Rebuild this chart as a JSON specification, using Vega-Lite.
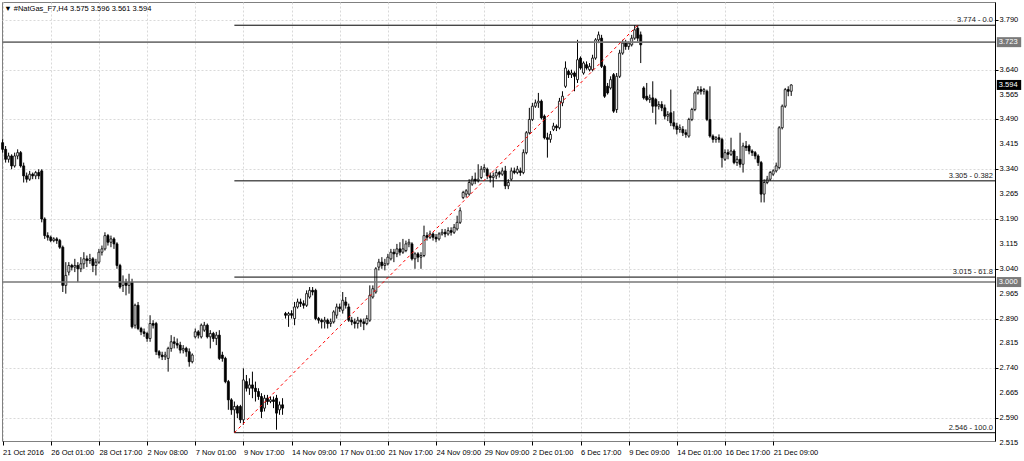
{
  "$schema": "https://vega.github.io/schema/vega-lite/v6.json",
  "width": 993,
  "height": 439,
  "autosize": {"type": "none"},
  "padding": {"left": 2, "top": 2, "right": 29, "bottom": 20},
  "background": "white",
  "config": {
    "view": {"stroke": "#808080", "strokeWidth": 1},
    "font": "Liberation Sans",
    "scale": {"continuousPadding": 0},
    "axis": {"labelFont": "Liberation Sans", "labelFontSize": 7.5, "labelColor": "#000000", "gridColor": "#d9d9d9", "gridDash": [2, 2], "tickColor": "#000000", "labelFlush": false, "labelOverlap": false, "title": null}
  },
  "title": {"text": "▼ #NatGas_F7,H4  3.575 3.596 3.561 3.594", "anchor": "start", "orient": "top", "offset": -10, "dx": 3, "fontSize": 7.5, "fontWeight": "normal", "font": "Liberation Sans", "color": "#000000"},
  "datasets": {
    "k": [
      {"i":0,"o":3.42,"h":3.43,"l":3.39,"c":3.40},
      {"i":1,"o":3.40,"h":3.41,"l":3.36,"c":3.37},
      {"i":2,"o":3.37,"h":3.39,"l":3.36,"c":3.38},
      {"i":3,"o":3.38,"h":3.385,"l":3.34,"c":3.35},
      {"i":4,"o":3.35,"h":3.39,"l":3.345,"c":3.38},
      {"i":5,"o":3.38,"h":3.40,"l":3.37,"c":3.39},
      {"i":6,"o":3.39,"h":3.395,"l":3.345,"c":3.35},
      {"i":7,"o":3.35,"h":3.36,"l":3.30,"c":3.32},
      {"i":8,"o":3.32,"h":3.33,"l":3.30,"c":3.31},
      {"i":9,"o":3.31,"h":3.335,"l":3.305,"c":3.325},
      {"i":10,"o":3.325,"h":3.33,"l":3.31,"c":3.32},
      {"i":11,"o":3.32,"h":3.335,"l":3.31,"c":3.33},
      {"i":12,"o":3.33,"h":3.34,"l":3.31,"c":3.32},
      {"i":13,"o":3.335,"h":3.34,"l":3.18,"c":3.19},
      {"i":14,"o":3.19,"h":3.195,"l":3.13,"c":3.14},
      {"i":15,"o":3.14,"h":3.15,"l":3.125,"c":3.135},
      {"i":16,"o":3.135,"h":3.14,"l":3.12,"c":3.125},
      {"i":17,"o":3.125,"h":3.135,"l":3.12,"c":3.13},
      {"i":18,"o":3.13,"h":3.135,"l":3.115,"c":3.125},
      {"i":19,"o":3.125,"h":3.13,"l":3.10,"c":3.105},
      {"i":20,"o":3.105,"h":3.11,"l":2.97,"c":2.99},
      {"i":21,"o":2.99,"h":3.06,"l":2.965,"c":3.02},
      {"i":22,"o":3.03,"h":3.06,"l":3.02,"c":3.05},
      {"i":23,"o":3.05,"h":3.055,"l":3.035,"c":3.045},
      {"i":24,"o":3.045,"h":3.07,"l":3.03,"c":3.05},
      {"i":25,"o":3.05,"h":3.06,"l":3.00,"c":3.04},
      {"i":26,"o":3.04,"h":3.075,"l":3.03,"c":3.055},
      {"i":27,"o":3.055,"h":3.09,"l":3.04,"c":3.07},
      {"i":28,"o":3.07,"h":3.08,"l":3.045,"c":3.065},
      {"i":29,"o":3.065,"h":3.085,"l":3.055,"c":3.07},
      {"i":30,"o":3.07,"h":3.075,"l":3.03,"c":3.05},
      {"i":31,"o":3.05,"h":3.07,"l":3.02,"c":3.06},
      {"i":32,"o":3.06,"h":3.10,"l":3.055,"c":3.09},
      {"i":33,"o":3.09,"h":3.11,"l":3.08,"c":3.10},
      {"i":34,"o":3.10,"h":3.15,"l":3.095,"c":3.14},
      {"i":35,"o":3.14,"h":3.145,"l":3.11,"c":3.12},
      {"i":36,"o":3.12,"h":3.14,"l":3.105,"c":3.13},
      {"i":37,"o":3.13,"h":3.135,"l":3.10,"c":3.115},
      {"i":38,"o":3.115,"h":3.12,"l":3.04,"c":3.05},
      {"i":39,"o":3.05,"h":3.055,"l":2.98,"c":2.985},
      {"i":40,"o":2.99,"h":3.02,"l":2.97,"c":3.00},
      {"i":41,"o":3.00,"h":3.01,"l":2.96,"c":2.99},
      {"i":42,"o":2.99,"h":3.025,"l":2.965,"c":3.00},
      {"i":43,"o":3.00,"h":3.01,"l":2.86,"c":2.865},
      {"i":44,"o":2.87,"h":2.935,"l":2.86,"c":2.93},
      {"i":45,"o":2.93,"h":2.94,"l":2.855,"c":2.86},
      {"i":46,"o":2.86,"h":2.865,"l":2.84,"c":2.85},
      {"i":47,"o":2.85,"h":2.86,"l":2.835,"c":2.845},
      {"i":48,"o":2.845,"h":2.85,"l":2.82,"c":2.83},
      {"i":49,"o":2.83,"h":2.90,"l":2.82,"c":2.875},
      {"i":50,"o":2.875,"h":2.885,"l":2.86,"c":2.87},
      {"i":51,"o":2.875,"h":2.88,"l":2.78,"c":2.79},
      {"i":52,"o":2.79,"h":2.795,"l":2.77,"c":2.78},
      {"i":53,"o":2.78,"h":2.79,"l":2.765,"c":2.775},
      {"i":54,"o":2.775,"h":2.79,"l":2.765,"c":2.78},
      {"i":55,"o":2.77,"h":2.805,"l":2.73,"c":2.80},
      {"i":56,"o":2.80,"h":2.84,"l":2.79,"c":2.82},
      {"i":57,"o":2.82,"h":2.835,"l":2.80,"c":2.815},
      {"i":58,"o":2.815,"h":2.83,"l":2.80,"c":2.81},
      {"i":59,"o":2.81,"h":2.82,"l":2.785,"c":2.795},
      {"i":60,"o":2.795,"h":2.81,"l":2.785,"c":2.80},
      {"i":61,"o":2.80,"h":2.805,"l":2.775,"c":2.79},
      {"i":62,"o":2.79,"h":2.80,"l":2.745,"c":2.76},
      {"i":63,"o":2.76,"h":2.785,"l":2.755,"c":2.78},
      {"i":64,"o":2.835,"h":2.86,"l":2.83,"c":2.85},
      {"i":65,"o":2.85,"h":2.855,"l":2.83,"c":2.84},
      {"i":66,"o":2.835,"h":2.875,"l":2.83,"c":2.87},
      {"i":67,"o":2.855,"h":2.88,"l":2.85,"c":2.87},
      {"i":68,"o":2.87,"h":2.875,"l":2.83,"c":2.835},
      {"i":69,"o":2.835,"h":2.855,"l":2.80,"c":2.845},
      {"i":70,"o":2.845,"h":2.85,"l":2.82,"c":2.83},
      {"i":71,"o":2.83,"h":2.85,"l":2.81,"c":2.84},
      {"i":72,"o":2.84,"h":2.855,"l":2.765,"c":2.77},
      {"i":73,"o":2.78,"h":2.79,"l":2.76,"c":2.77},
      {"i":74,"o":2.77,"h":2.775,"l":2.695,"c":2.70},
      {"i":75,"o":2.70,"h":2.705,"l":2.615,"c":2.645},
      {"i":76,"o":2.645,"h":2.65,"l":2.60,"c":2.615},
      {"i":77,"o":2.615,"h":2.64,"l":2.546,"c":2.625},
      {"i":78,"o":2.625,"h":2.63,"l":2.59,"c":2.605},
      {"i":79,"o":2.625,"h":2.63,"l":2.575,"c":2.585},
      {"i":80,"o":2.585,"h":2.74,"l":2.57,"c":2.705},
      {"i":81,"o":2.70,"h":2.72,"l":2.67,"c":2.68},
      {"i":82,"o":2.68,"h":2.71,"l":2.66,"c":2.69},
      {"i":83,"o":2.69,"h":2.73,"l":2.65,"c":2.68},
      {"i":84,"o":2.68,"h":2.70,"l":2.64,"c":2.67},
      {"i":85,"o":2.67,"h":2.68,"l":2.645,"c":2.655},
      {"i":86,"o":2.655,"h":2.665,"l":2.59,"c":2.61},
      {"i":87,"o":2.62,"h":2.66,"l":2.61,"c":2.65},
      {"i":88,"o":2.65,"h":2.66,"l":2.63,"c":2.64},
      {"i":89,"o":2.64,"h":2.655,"l":2.635,"c":2.645},
      {"i":90,"o":2.645,"h":2.655,"l":2.62,"c":2.64},
      {"i":91,"o":2.65,"h":2.66,"l":2.555,"c":2.605},
      {"i":92,"o":2.615,"h":2.64,"l":2.60,"c":2.63},
      {"i":93,"o":2.63,"h":2.65,"l":2.60,"c":2.62},
      {"i":94,"o":2.905,"h":2.91,"l":2.89,"c":2.90},
      {"i":95,"o":2.90,"h":2.91,"l":2.865,"c":2.905},
      {"i":96,"o":2.905,"h":2.915,"l":2.89,"c":2.90},
      {"i":97,"o":2.89,"h":2.94,"l":2.87,"c":2.925},
      {"i":98,"o":2.925,"h":2.95,"l":2.92,"c":2.94},
      {"i":99,"o":2.94,"h":2.95,"l":2.925,"c":2.935},
      {"i":100,"o":2.935,"h":2.945,"l":2.92,"c":2.93},
      {"i":101,"o":2.93,"h":2.975,"l":2.925,"c":2.965},
      {"i":102,"o":2.955,"h":2.985,"l":2.95,"c":2.975},
      {"i":103,"o":2.975,"h":2.985,"l":2.96,"c":2.97},
      {"i":104,"o":2.975,"h":2.98,"l":2.885,"c":2.89},
      {"i":105,"o":2.89,"h":2.895,"l":2.875,"c":2.885},
      {"i":106,"o":2.885,"h":2.89,"l":2.86,"c":2.88},
      {"i":107,"o":2.88,"h":2.895,"l":2.86,"c":2.885},
      {"i":108,"o":2.885,"h":2.89,"l":2.86,"c":2.875},
      {"i":109,"o":2.875,"h":2.89,"l":2.865,"c":2.88},
      {"i":110,"o":2.88,"h":2.915,"l":2.875,"c":2.91},
      {"i":111,"o":2.90,"h":2.935,"l":2.89,"c":2.925},
      {"i":112,"o":2.925,"h":2.935,"l":2.91,"c":2.92},
      {"i":113,"o":2.915,"h":2.97,"l":2.905,"c":2.945},
      {"i":114,"o":2.94,"h":2.955,"l":2.92,"c":2.93},
      {"i":115,"o":2.925,"h":2.935,"l":2.88,"c":2.885},
      {"i":116,"o":2.885,"h":2.895,"l":2.87,"c":2.88},
      {"i":117,"o":2.88,"h":2.89,"l":2.86,"c":2.875},
      {"i":118,"o":2.875,"h":2.895,"l":2.86,"c":2.885},
      {"i":119,"o":2.885,"h":2.89,"l":2.865,"c":2.88},
      {"i":120,"o":2.88,"h":2.89,"l":2.855,"c":2.875},
      {"i":121,"o":2.875,"h":2.90,"l":2.87,"c":2.89},
      {"i":122,"o":2.885,"h":2.99,"l":2.88,"c":2.96},
      {"i":123,"o":2.955,"h":2.99,"l":2.95,"c":2.98},
      {"i":124,"o":2.97,"h":3.045,"l":2.965,"c":3.04},
      {"i":125,"o":3.045,"h":3.07,"l":3.035,"c":3.06},
      {"i":126,"o":3.06,"h":3.075,"l":3.04,"c":3.05},
      {"i":127,"o":3.05,"h":3.07,"l":3.035,"c":3.055},
      {"i":128,"o":3.055,"h":3.085,"l":3.05,"c":3.075},
      {"i":129,"o":3.07,"h":3.10,"l":3.065,"c":3.09},
      {"i":130,"o":3.09,"h":3.10,"l":3.06,"c":3.085},
      {"i":131,"o":3.085,"h":3.115,"l":3.075,"c":3.10},
      {"i":132,"o":3.10,"h":3.12,"l":3.08,"c":3.09},
      {"i":133,"o":3.09,"h":3.13,"l":3.085,"c":3.10},
      {"i":134,"o":3.095,"h":3.125,"l":3.09,"c":3.115},
      {"i":135,"o":3.115,"h":3.13,"l":3.105,"c":3.12},
      {"i":136,"o":3.115,"h":3.12,"l":3.065,"c":3.07},
      {"i":137,"o":3.07,"h":3.09,"l":3.04,"c":3.085},
      {"i":138,"o":3.085,"h":3.09,"l":3.06,"c":3.075},
      {"i":139,"o":3.075,"h":3.09,"l":3.04,"c":3.08},
      {"i":140,"o":3.08,"h":3.17,"l":3.075,"c":3.14},
      {"i":141,"o":3.14,"h":3.15,"l":3.125,"c":3.135},
      {"i":142,"o":3.135,"h":3.155,"l":3.13,"c":3.145},
      {"i":143,"o":3.145,"h":3.15,"l":3.125,"c":3.135},
      {"i":144,"o":3.135,"h":3.145,"l":3.12,"c":3.13},
      {"i":145,"o":3.13,"h":3.15,"l":3.125,"c":3.145},
      {"i":146,"o":3.145,"h":3.16,"l":3.14,"c":3.15},
      {"i":147,"o":3.15,"h":3.16,"l":3.135,"c":3.145},
      {"i":148,"o":3.145,"h":3.165,"l":3.14,"c":3.155},
      {"i":149,"o":3.155,"h":3.165,"l":3.14,"c":3.15},
      {"i":150,"o":3.15,"h":3.175,"l":3.145,"c":3.165},
      {"i":151,"o":3.16,"h":3.20,"l":3.155,"c":3.18},
      {"i":152,"o":3.18,"h":3.225,"l":3.175,"c":3.215},
      {"i":153,"o":3.255,"h":3.275,"l":3.25,"c":3.27},
      {"i":154,"o":3.265,"h":3.28,"l":3.255,"c":3.275},
      {"i":155,"o":3.265,"h":3.31,"l":3.26,"c":3.30},
      {"i":156,"o":3.295,"h":3.32,"l":3.29,"c":3.31},
      {"i":157,"o":3.31,"h":3.33,"l":3.295,"c":3.305},
      {"i":158,"o":3.305,"h":3.355,"l":3.30,"c":3.31},
      {"i":159,"o":3.315,"h":3.35,"l":3.31,"c":3.34},
      {"i":160,"o":3.34,"h":3.355,"l":3.33,"c":3.345},
      {"i":161,"o":3.34,"h":3.345,"l":3.31,"c":3.32},
      {"i":162,"o":3.32,"h":3.33,"l":3.30,"c":3.315},
      {"i":163,"o":3.315,"h":3.33,"l":3.285,"c":3.32},
      {"i":164,"o":3.32,"h":3.34,"l":3.31,"c":3.33},
      {"i":165,"o":3.33,"h":3.335,"l":3.315,"c":3.325},
      {"i":166,"o":3.325,"h":3.345,"l":3.32,"c":3.335},
      {"i":167,"o":3.335,"h":3.35,"l":3.28,"c":3.29},
      {"i":168,"o":3.29,"h":3.31,"l":3.28,"c":3.30},
      {"i":169,"o":3.31,"h":3.345,"l":3.305,"c":3.335},
      {"i":170,"o":3.335,"h":3.345,"l":3.325,"c":3.33},
      {"i":171,"o":3.33,"h":3.35,"l":3.325,"c":3.34},
      {"i":172,"o":3.335,"h":3.345,"l":3.32,"c":3.33},
      {"i":173,"o":3.33,"h":3.40,"l":3.325,"c":3.39},
      {"i":174,"o":3.39,"h":3.455,"l":3.385,"c":3.45},
      {"i":175,"o":3.45,"h":3.525,"l":3.445,"c":3.49},
      {"i":176,"o":3.49,"h":3.54,"l":3.485,"c":3.53},
      {"i":177,"o":3.53,"h":3.55,"l":3.525,"c":3.54},
      {"i":178,"o":3.54,"h":3.57,"l":3.525,"c":3.545},
      {"i":179,"o":3.545,"h":3.55,"l":3.49,"c":3.495},
      {"i":180,"o":3.50,"h":3.505,"l":3.43,"c":3.435},
      {"i":181,"o":3.435,"h":3.45,"l":3.375,"c":3.43},
      {"i":182,"o":3.43,"h":3.455,"l":3.42,"c":3.445},
      {"i":183,"o":3.46,"h":3.48,"l":3.455,"c":3.47},
      {"i":184,"o":3.47,"h":3.475,"l":3.455,"c":3.465},
      {"i":185,"o":3.465,"h":3.555,"l":3.46,"c":3.545},
      {"i":186,"o":3.54,"h":3.575,"l":3.53,"c":3.56},
      {"i":187,"o":3.59,"h":3.665,"l":3.585,"c":3.645},
      {"i":188,"o":3.635,"h":3.64,"l":3.615,"c":3.625},
      {"i":189,"o":3.625,"h":3.64,"l":3.615,"c":3.63},
      {"i":190,"o":3.63,"h":3.635,"l":3.575,"c":3.62},
      {"i":191,"o":3.61,"h":3.73,"l":3.60,"c":3.67},
      {"i":192,"o":3.675,"h":3.68,"l":3.64,"c":3.645},
      {"i":193,"o":3.63,"h":3.665,"l":3.625,"c":3.66},
      {"i":194,"o":3.655,"h":3.665,"l":3.64,"c":3.645},
      {"i":195,"o":3.64,"h":3.66,"l":3.635,"c":3.65},
      {"i":196,"o":3.64,"h":3.685,"l":3.635,"c":3.675},
      {"i":197,"o":3.675,"h":3.735,"l":3.67,"c":3.73},
      {"i":198,"o":3.73,"h":3.755,"l":3.72,"c":3.745},
      {"i":199,"o":3.735,"h":3.745,"l":3.645,"c":3.65},
      {"i":200,"o":3.65,"h":3.655,"l":3.555,"c":3.56},
      {"i":201,"o":3.59,"h":3.60,"l":3.565,"c":3.57},
      {"i":202,"o":3.585,"h":3.62,"l":3.58,"c":3.61},
      {"i":203,"o":3.625,"h":3.63,"l":3.51,"c":3.515},
      {"i":204,"o":3.52,"h":3.63,"l":3.51,"c":3.62},
      {"i":205,"o":3.62,"h":3.70,"l":3.615,"c":3.69},
      {"i":206,"o":3.69,"h":3.73,"l":3.685,"c":3.72},
      {"i":207,"o":3.72,"h":3.73,"l":3.70,"c":3.71},
      {"i":208,"o":3.71,"h":3.725,"l":3.70,"c":3.72},
      {"i":209,"o":3.715,"h":3.745,"l":3.71,"c":3.735},
      {"i":210,"o":3.735,"h":3.774,"l":3.73,"c":3.76},
      {"i":211,"o":3.765,"h":3.774,"l":3.725,"c":3.735},
      {"i":212,"o":3.745,"h":3.755,"l":3.66,"c":3.715},
      {"i":213,"o":3.585,"h":3.59,"l":3.55,"c":3.555},
      {"i":214,"o":3.56,"h":3.60,"l":3.545,"c":3.55},
      {"i":215,"o":3.55,"h":3.565,"l":3.54,"c":3.555},
      {"i":216,"o":3.555,"h":3.605,"l":3.51,"c":3.53},
      {"i":217,"o":3.55,"h":3.555,"l":3.475,"c":3.53},
      {"i":218,"o":3.53,"h":3.545,"l":3.52,"c":3.535},
      {"i":219,"o":3.535,"h":3.545,"l":3.515,"c":3.525},
      {"i":220,"o":3.525,"h":3.535,"l":3.49,"c":3.50},
      {"i":221,"o":3.50,"h":3.515,"l":3.485,"c":3.505},
      {"i":222,"o":3.51,"h":3.58,"l":3.47,"c":3.48},
      {"i":223,"o":3.48,"h":3.515,"l":3.46,"c":3.47},
      {"i":224,"o":3.47,"h":3.48,"l":3.445,"c":3.46},
      {"i":225,"o":3.46,"h":3.475,"l":3.45,"c":3.465},
      {"i":226,"o":3.46,"h":3.47,"l":3.44,"c":3.45},
      {"i":227,"o":3.45,"h":3.46,"l":3.435,"c":3.445},
      {"i":228,"o":3.44,"h":3.495,"l":3.435,"c":3.49},
      {"i":229,"o":3.49,"h":3.525,"l":3.485,"c":3.52},
      {"i":230,"o":3.52,"h":3.575,"l":3.515,"c":3.57},
      {"i":231,"o":3.57,"h":3.59,"l":3.565,"c":3.58},
      {"i":232,"o":3.58,"h":3.59,"l":3.565,"c":3.575},
      {"i":233,"o":3.575,"h":3.585,"l":3.565,"c":3.58},
      {"i":234,"o":3.575,"h":3.58,"l":3.485,"c":3.49},
      {"i":235,"o":3.49,"h":3.59,"l":3.435,"c":3.44},
      {"i":236,"o":3.44,"h":3.445,"l":3.42,"c":3.43},
      {"i":237,"o":3.43,"h":3.44,"l":3.42,"c":3.435},
      {"i":238,"o":3.435,"h":3.445,"l":3.42,"c":3.43},
      {"i":239,"o":3.43,"h":3.435,"l":3.345,"c":3.375},
      {"i":240,"o":3.37,"h":3.40,"l":3.365,"c":3.39},
      {"i":241,"o":3.39,"h":3.40,"l":3.37,"c":3.385},
      {"i":242,"o":3.385,"h":3.435,"l":3.38,"c":3.395},
      {"i":243,"o":3.395,"h":3.40,"l":3.355,"c":3.36},
      {"i":244,"o":3.36,"h":3.38,"l":3.35,"c":3.37},
      {"i":245,"o":3.37,"h":3.45,"l":3.345,"c":3.355},
      {"i":246,"o":3.355,"h":3.42,"l":3.33,"c":3.41},
      {"i":247,"o":3.41,"h":3.425,"l":3.395,"c":3.405},
      {"i":248,"o":3.41,"h":3.415,"l":3.385,"c":3.395},
      {"i":249,"o":3.395,"h":3.40,"l":3.38,"c":3.39},
      {"i":250,"o":3.39,"h":3.395,"l":3.37,"c":3.38},
      {"i":251,"o":3.38,"h":3.385,"l":3.35,"c":3.36},
      {"i":252,"o":3.36,"h":3.365,"l":3.24,"c":3.265},
      {"i":253,"o":3.265,"h":3.31,"l":3.24,"c":3.30},
      {"i":254,"o":3.30,"h":3.32,"l":3.295,"c":3.31},
      {"i":255,"o":3.31,"h":3.335,"l":3.305,"c":3.33},
      {"i":256,"o":3.325,"h":3.34,"l":3.32,"c":3.335},
      {"i":257,"o":3.335,"h":3.36,"l":3.33,"c":3.35},
      {"i":258,"o":3.345,"h":3.47,"l":3.34,"c":3.465},
      {"i":259,"o":3.465,"h":3.535,"l":3.46,"c":3.53},
      {"i":260,"o":3.53,"h":3.585,"l":3.525,"c":3.58},
      {"i":261,"o":3.58,"h":3.59,"l":3.56,"c":3.575},
      {"i":262,"o":3.575,"h":3.596,"l":3.561,"c":3.594}
    ],
    "yt": [
      {"v": 2.515, "t": "2.515"}, {"v": 2.59, "t": "2.590"}, {"v": 2.665, "t": "2.665"},
      {"v": 2.74, "t": "2.740"}, {"v": 2.815, "t": "2.815"}, {"v": 2.89, "t": "2.890"},
      {"v": 2.965, "t": "2.965"}, {"v": 3.04, "t": "3.040"}, {"v": 3.115, "t": "3.115"},
      {"v": 3.19, "t": "3.190"}, {"v": 3.265, "t": "3.265"}, {"v": 3.34, "t": "3.340"},
      {"v": 3.415, "t": "3.415"}, {"v": 3.49, "t": "3.490"}, {"v": 3.565, "t": "3.565"},
      {"v": 3.64, "t": "3.640"}, {"v": 3.715, "t": "3.715"}, {"v": 3.79, "t": "3.790"}
    ],
    "fib": [
      {"from": 77, "p": 3.774, "t": "3.774 - 0.0"},
      {"from": 77, "p": 3.305, "t": "3.305 - 0.382"},
      {"from": 77, "p": 3.015, "t": "3.015 - 61.8"},
      {"from": 77, "p": 2.546, "t": "2.546 - 100.0"}
    ],
    "hl": [
      {"p": 3.723, "t": "3.723", "kind": "line"},
      {"p": 3.000, "t": "3.000", "kind": "line"},
      {"p": 3.594, "t": "3.594", "kind": "bid"}
    ],
    "tl": [
      {"i0": 77, "p0": 2.546, "i1": 211, "p1": 3.774}
    ]
  },
  "layer": [
    {
      "data": {"name": "k"},
      "mark": {"type": "rule", "color": "#000000", "strokeWidth": 1},
      "encoding": {
        "x": {
          "field": "i", "type": "quantitative",
          "scale": {"domain": [-0.2, 329.7], "nice": false, "zero": false, "padding": 0},
          "axis": {
            "orient": "bottom",
            "values": [0, 16, 32, 48, 64, 80, 96, 112, 128, 144, 160, 176, 192, 208, 224, 240, 256],
            "labelExpr": "['21 Oct 2016','26 Oct 01:00','28 Oct 17:00','2 Nov 08:00','7 Nov 01:00','9 Nov 17:00','14 Nov 09:00','17 Nov 01:00','21 Nov 17:00','24 Nov 09:00','29 Nov 09:00','2 Dec 01:00','6 Dec 17:00','9 Dec 09:00','14 Dec 01:00','16 Dec 17:00','21 Dec 09:00'][round(datum.value/16)]",
            "labelAlign": "left",
            "labelBaseline": "top",
            "labelPadding": 3,
            "labelOffset": 0,
            "labelOverlap": false,
            "tickSize": 4,
            "domain": false,
            "grid": true
          }
        },
        "y": {
          "field": "l", "type": "quantitative",
          "scale": {"domain": [2.521, 3.844], "nice": false, "zero": false, "padding": 0},
          "axis": {
            "orient": "right",
            "values": [2.59, 2.665, 2.74, 2.815, 2.89, 2.965, 3.04, 3.115, 3.19, 3.265, 3.34, 3.415, 3.49, 3.565, 3.64, 3.715, 3.79],
            "labels": false,
            "tickSize": 3,
            "domain": true,
            "domainColor": "#000000",
            "grid": true
          }
        },
        "y2": {"field": "h"}
      }
    },
    {
      "data": {"name": "k"},
      "mark": {"type": "bar", "size": 2, "stroke": "#000000", "strokeWidth": 0.8},
      "encoding": {
        "x": {"field": "i", "type": "quantitative"},
        "y": {"field": "o", "type": "quantitative"},
        "y2": {"field": "c"},
        "fill": {"condition": {"test": "datum.c >= datum.o", "value": "#ffffff"}, "value": "#000000"}
      }
    },
    {
      "data": {"name": "hl"},
      "transform": [{"filter": "datum.kind == 'line'"}],
      "mark": {"type": "rule", "color": "#777777", "strokeWidth": 1.6},
      "encoding": {
        "y": {"field": "p", "type": "quantitative"}
      }
    },
    {
      "data": {"name": "fib"},
      "mark": {"type": "rule", "color": "#000000", "strokeWidth": 1},
      "encoding": {
        "x": {"field": "from", "type": "quantitative"},
        "x2": {"datum": 329.7},
        "y": {"field": "p", "type": "quantitative"}
      }
    },
    {
      "data": {"name": "fib"},
      "mark": {"type": "text", "align": "right", "baseline": "bottom", "dy": -1, "fontSize": 7.5, "font": "Liberation Sans", "color": "#222222"},
      "encoding": {
        "x": {"datum": 329.0},
        "y": {"field": "p", "type": "quantitative"},
        "text": {"field": "t"}
      }
    },
    {
      "data": {"name": "tl"},
      "mark": {"type": "rule", "color": "#ff0000", "strokeWidth": 1, "strokeDash": [3, 3]},
      "encoding": {
        "x": {"field": "i0", "type": "quantitative"},
        "x2": {"field": "i1"},
        "y": {"field": "p0", "type": "quantitative"},
        "y2": {"field": "p1"}
      }
    },
    {
      "data": {"name": "yt"},
      "mark": {"type": "text", "align": "left", "baseline": "middle", "fontSize": 7.5, "font": "Liberation Sans", "color": "#000000"},
      "encoding": {
        "x": {"datum": 331.2},
        "y": {"field": "v", "type": "quantitative"},
        "text": {"field": "t"}
      }
    },
    {
      "data": {"name": "hl"},
      "mark": {"type": "bar", "size": 10, "orient": "horizontal"},
      "encoding": {
        "x": {"datum": 330.3},
        "x2": {"datum": 338.4},
        "y": {"field": "p", "type": "quantitative"},
        "fill": {"condition": {"test": "datum.kind == 'bid'", "value": "#000000"}, "value": "#7a7a7a"}
      }
    },
    {
      "data": {"name": "hl"},
      "mark": {"type": "text", "align": "left", "baseline": "middle", "dx": 2, "fontSize": 7.5, "font": "Liberation Sans", "color": "#ffffff"},
      "encoding": {
        "x": {"datum": 330.3},
        "y": {"field": "p", "type": "quantitative"},
        "text": {"field": "t"}
      }
    }
  ]
}
